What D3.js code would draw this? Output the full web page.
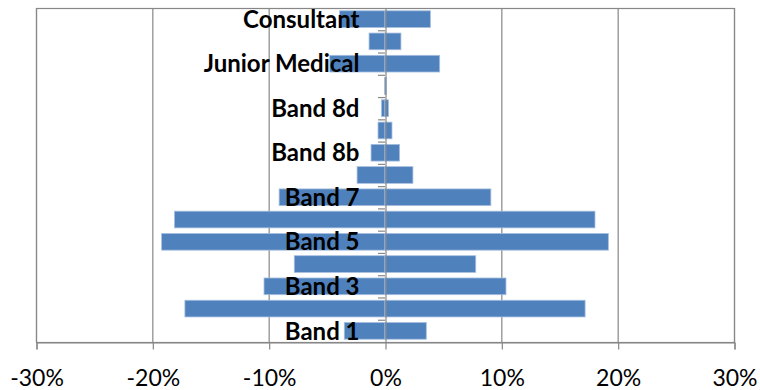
<!DOCTYPE html>
<html>
<head>
<meta charset="utf-8">
<script src="https://cdn.jsdelivr.net/npm/d3@7"></script>
<style>
  body { margin: 0; background: #fff; }
  svg { display: block; }
</style>
</head>
<body>
<div id="vis"></div>
<script>
// staff groups, bottom to top
var categories = ["Band 1", "Band 2", "Band 3", "Band 4", "Band 5", "Band 6", "Band 7",
                  "Band 8a", "Band 8b", "Band 8c", "Band 8d", "Band 9",
                  "Junior Medical", "Middle Grade", "Consultant"];

// share of staff (%), left side drawn as negative
var leftShare  = [3.5, 17.2, 10.4, 7.8, 19.2, 18.1, 9.1, 2.4, 1.2, 0.6, 0.3, 0.05, 4.75, 1.37, 3.9];
var rightShare = [3.55, 17.2, 10.4, 7.8, 19.2, 18.05, 9.1, 2.4, 1.25, 0.6, 0.3, 0.1, 4.7, 1.37, 3.9];

var xTicks = [-30, -20, -10, 0, 10, 20, 30];
// only every other group gets a label
var shownLabels = ["Band 1", "Band 3", "Band 5", "Band 7", "Band 8b", "Band 8d", "Junior Medical", "Consultant"];

var w = 760;
var h = 390;
var margin = {top: 8, right: 26, bottom: 48, left: 36};
var width = w - margin.left - margin.right;
var height = h - margin.top - margin.bottom;

var gray = "#878787";
var blue = "#4F81BD";

let svg = d3.select("#vis")
            .append("svg")
            .attr("width", w)
            .attr("height", h);

var main = svg.append("g")
              .attr("transform", `translate(${margin.left},${margin.top})`);

var x = d3.scaleLinear()
          .domain([-30, 30])
          .range([0, width]);

var y = d3.scaleBand()
          .domain(categories.slice().reverse())
          .range([0, height])
          .paddingInner(0.25)
          .paddingOuter(0.125);

//gridlines
main.append("g")
    .selectAll("line")
    .data(xTicks.filter(d => d != 0))
    .enter()
    .append("line")
    .attr("x1", d => x(d) + 0.5)
    .attr("x2", d => x(d) + 0.5)
    .attr("y1", 0)
    .attr("y2", height)
    .attr("stroke", gray)
    .attr("stroke-width", 1.2);

var rows = categories.map((c, i) => ({cat: c, left: -leftShare[i], right: rightShare[i]}));

//bars, one each side of zero
main.append("g")
    .selectAll("rect.left")
    .data(rows)
    .enter()
    .append("rect")
    .attr("x", d => x(d.left))
    .attr("width", d => x(0) - x(d.left))
    .attr("y", d => y(d.cat))
    .attr("height", y.bandwidth())
    .attr("fill", blue)
    .attr("stroke", "#A7BFDF")
    .attr("stroke-width", 0.8);

main.append("g")
    .selectAll("rect.right")
    .data(rows)
    .enter()
    .append("rect")
    .attr("x", x(0))
    .attr("width", d => x(d.right) - x(0))
    .attr("y", d => y(d.cat))
    .attr("height", y.bandwidth())
    .attr("fill", blue)
    .attr("stroke", "#A7BFDF")
    .attr("stroke-width", 0.8);

//plot border
main.append("rect")
    .attr("x", 0.5)
    .attr("y", 0.5)
    .attr("width", width)
    .attr("height", height)
    .attr("fill", "none")
    .attr("stroke", gray)
    .attr("stroke-width", 1.2);

//x axis
var xAxis = main.append("g")
    .attr("transform", `translate(0.5,${height + 0.5})`)
    .call(d3.axisBottom(x)
            .tickValues(xTicks)
            .tickFormat(d => d + "%")
            .tickSizeOuter(0)
            .tickSize(7)
            .tickPadding(20));

xAxis.select(".domain").attr("stroke", gray).attr("stroke-width", 1.2);
xAxis.selectAll(".tick line").attr("stroke", gray).attr("stroke-width", 1.2);
xAxis.selectAll("text")
     .attr("fill", "#000")
     .style("font-family", "Lato, sans-serif")
     .style("font-size", "23px");

//category ticks sit on the boundaries between groups
var step = y.step();
main.append("g")
    .selectAll("line")
    .data(d3.range(1, categories.length))
    .enter()
    .append("line")
    .attr("x1", x(0) - 7)
    .attr("x2", x(0))
    .attr("y1", d => d * step + 0.5)
    .attr("y2", d => d * step + 0.5)
    .attr("stroke", gray)
    .attr("stroke-width", 1.2);

//zero axis with group labels
var yAxis = main.append("g")
    .attr("transform", `translate(${x(0) + 0.5},0)`)
    .call(d3.axisLeft(y)
            .tickSize(0)
            .tickSizeOuter(0)
            .tickPadding(26)
            .tickFormat(d => shownLabels.includes(d) ? d : ""));

yAxis.select(".domain").attr("stroke", gray).attr("stroke-width", 1.2);
yAxis.selectAll("text")
     .attr("fill", "#000")
     .attr("dy", "0.36em")
     .style("font-family", "Lato, sans-serif")
     .style("font-weight", "bold")
     .style("font-size", "24px");
</script>
</body>
</html>
